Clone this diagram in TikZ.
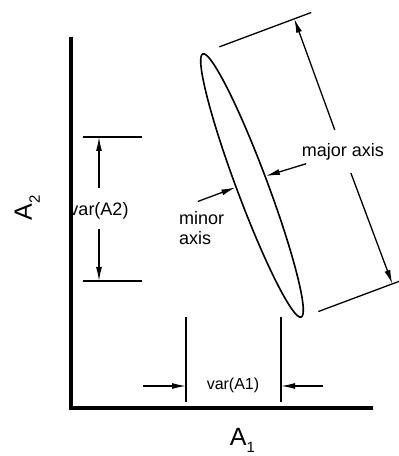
\documentclass[tikz,border=0pt]{standalone}
\usepackage{fontspec}
\setmainfont{Liberation Sans}
\usetikzlibrary{arrows.meta, positioning, calc, shapes.geometric}

\begin{document}
\begin{tikzpicture}[x=1pt, y=1pt,
  axisline/.style={line width=3.3pt},
  dimline/.style={line width=1.3pt},
  dimarrow/.style={line width=1.3pt, -{Latex[length=14pt,width=6pt]}},
  lbl/.style={font=\fontsize{18}{20}\selectfont, inner sep=0pt}]
  \useasboundingbox (0,0) rectangle (399,456);

  % the ellipse
  \node[ellipse, draw, line width=1.6pt, inner sep=0pt, minimum width=281pt, minimum height=31pt,
    rotate=-69.5] (ell) at (252,270.5) {};

  % major axis
  \draw[dimline] ($(ell.west)+(20.5:18)$) -- ($(ell.west)+(20.5:116)$);
  \draw[dimline] ($(ell.east)+(20.5:18)$) -- ($(ell.east)+(20.5:105)$);
  \node[lbl] (major) at ($(ell.center)+(20.5:97)$) {major axis};
  \draw[dimarrow] ($(major)+(110.5:23)$) -- ($(ell.west)+(20.5:98)$);
  \draw[dimarrow] ($(major)+(-69.5:23)$) -- ($(ell.east)+(20.5:97)$);

  % minor axis
  \coordinate (mnS) at ($(ell.south)+(110.5:4)$);
  \coordinate (mnN) at ($(ell.north)+(110.5:4)$);
  \draw[dimarrow] ($(mnS)+(200.5:40)$) -- (mnS);
  \draw[dimarrow] ($(mnN)+(17:42)$) -- (mnN);
  \node[lbl, align=left, anchor=west] (minor) at (179,228) {minor\\axis};

  % var(A2)
  \coordinate (v2t) at (99,319);
  \coordinate (v2b) at (99,175);
  \draw[dimline] (83,319) -- (142,319);
  \draw[dimline] (83,175) -- (142,175);
  \node[lbl] (va2) at (99,245) {var(A2)};
  \draw[dimarrow] (99,268) -- (v2t);
  \draw[dimarrow] (99,227) -- (v2b);

  % var(A1)
  \coordinate (v1l) at (186,70);
  \coordinate (v1r) at (281,70);
  \draw[dimline] (186,139) -- (186,54);
  \draw[dimline] (281,139) -- (281,54);
  \node[font=\fontsize{16}{16}\selectfont, inner sep=0pt] (va1) at (233,71) {var(A1)};
  \draw[dimarrow] (143,70) -- (v1l);
  \draw[dimarrow] (323,70) -- (v1r);

  % axes (on top of the var(A2) label)
  \coordinate (ytop) at (71,419);
  \coordinate (O) at (71,48);
  \coordinate (xend) at (373,48);
  \draw[axisline] (ytop) -- (O) -- (xend);
  \node[font=\fontsize{25}{25}\selectfont, inner sep=0pt, anchor=base] (xlab) at (242.5,10)
    {A\raisebox{-7pt}{\fontsize{15}{15}\selectfont 1}};
  \node[font=\fontsize{25}{25}\selectfont, inner sep=0pt, anchor=base, rotate=90] (ylab) at (32,248.5)
    {A\raisebox{-8pt}{\fontsize{15}{15}\selectfont 2}};

\end{tikzpicture}
\end{document}
